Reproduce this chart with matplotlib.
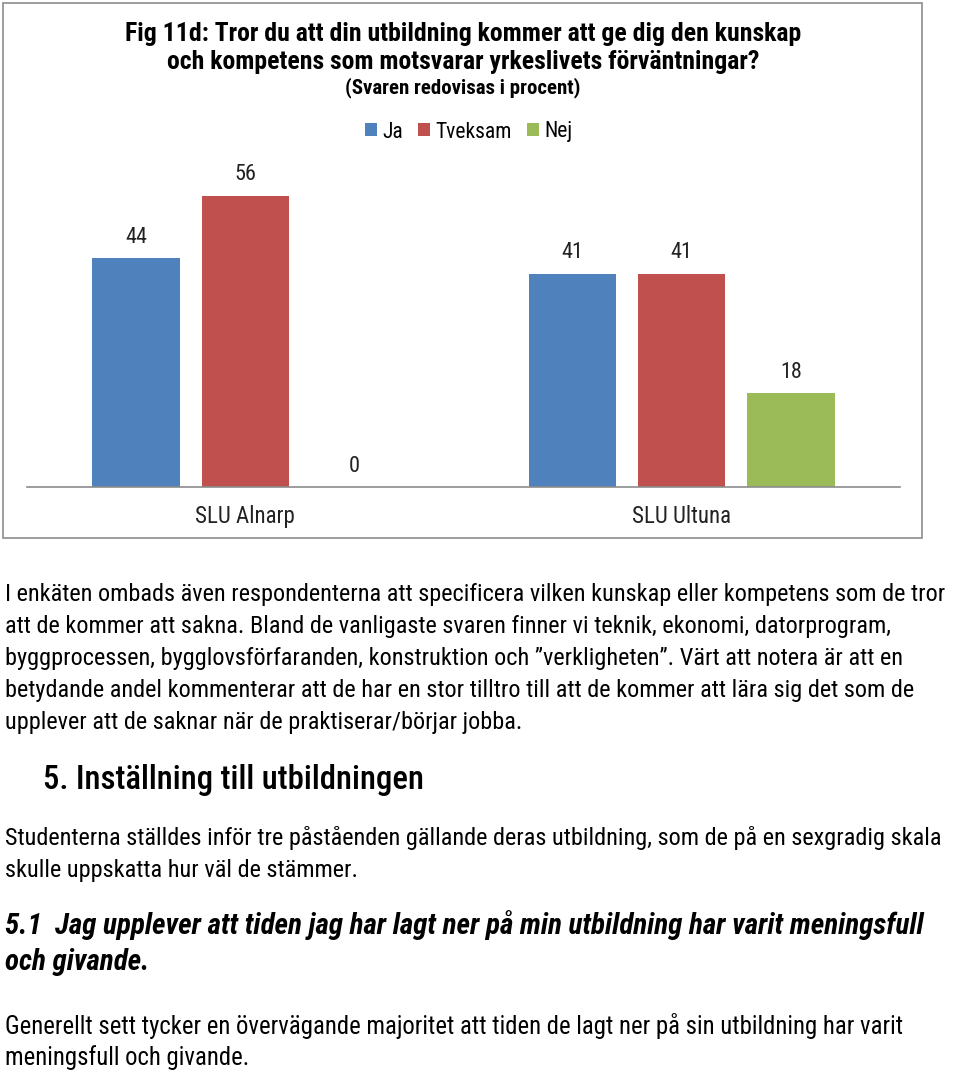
import matplotlib.pyplot as plt
import numpy as np

categories = ['SLU Alnarp', 'SLU Ultuna']
series = ['Ja', 'Tveksam', 'Nej']
values = {
    'Ja': [44, 41],
    'Tveksam': [56, 41],
    'Nej': [0, 18],
}
colors = {'Ja': '#4F81BD', 'Tveksam': '#C0504D', 'Nej': '#9BBB59'}

title = ('Fig 11d: Tror du att din utbildning kommer att ge dig den kunskap\n'
         'och kompetens som motsvarar yrkeslivets förväntningar?')
subtitle = '(Svaren redovisas i procent)'

para1 = [
    'I enkäten ombads även respondenterna att specificera vilken kunskap eller kompetens som de tror',
    'att de kommer att sakna. Bland de vanligaste svaren finner vi teknik, ekonomi, datorprogram,',
    'byggprocessen, bygglovsförfaranden, konstruktion och ”verkligheten”. Värt att notera är att en',
    'betydande andel kommenterar att de har en stor tilltro till att de kommer att lära sig det som de',
    'upplever att de saknar när de praktiserar/börjar jobba.',
]
heading = '5. Inställning till utbildningen'
para2 = [
    'Studenterna ställdes inför tre påståenden gällande deras utbildning, som de på en sexgradig skala',
    'skulle uppskatta hur väl de stämmer.',
]
sub_heading = [
    '5.1  Jag upplever att tiden jag har lagt ner på min utbildning har varit meningsfull',
    'och givande.',
]
para3 = [
    'Generellt sett tycker en övervägande majoritet att tiden de lagt ner på sin utbildning har varit',
    'meningsfull och givande.',
]

plt.rcParams['font.family'] = ['Roboto Condensed', 'Roboto', 'DejaVu Sans']
plt.rcParams['font.stretch'] = 'condensed'

W, H = 960, 1074
fig = plt.figure(figsize=(W / 100, H / 100), dpi=100)


def fx(px):
    return px / W


def fy(py):
    return 1 - py / H


# chart frame
frame = plt.Rectangle((fx(3), fy(538)), fx(922) - fx(3), fy(3) - fy(538),
                      transform=fig.transFigure, fill=False, edgecolor='#8c8c8c',
                      linewidth=1.2)
fig.add_artist(frame)

# axes: baseline at y=487, x from 27 to 900
ax = fig.add_axes([fx(27), fy(487), fx(900) - fx(27), fy(175) - fy(487)])
ax.set_xlim(-0.5, 1.5)
ax.set_ylim(0, 60)
x = np.arange(len(categories))
offsets = [-0.25, 0, 0.25]
for s, off in zip(series, offsets):
    ax.bar(x + off, values[s], width=0.2, color=colors[s], label=s, zorder=2)
    for xi, v in zip(x + off, values[s]):
        ax.annotate(str(v), (xi, v), xytext=(0, 15), textcoords='offset points',
                    ha='center', va='center', fontsize=16, color='#222222',
                    annotation_clip=False)

for sp in ['top', 'right', 'left']:
    ax.spines[sp].set_visible(False)
ax.spines['bottom'].set_color('#8c8c8c')
ax.spines['bottom'].set_linewidth(1.2)
ax.set_yticks([])
ax.set_xticks(x)
ax.set_xticklabels(categories, fontsize=16.5, color='#222222')
ax.tick_params(axis='x', length=0, pad=13)

fig.text(fx(463), fy(48), title, ha='center', va='center', fontsize=18.5,
         fontweight='bold', linespacing=1.2)
fig.text(fx(463), fy(88), subtitle, ha='center', va='center', fontsize=15,
         fontweight='bold')

handles, labels = ax.get_legend_handles_labels()
fig.legend(handles, labels, loc='center', bbox_to_anchor=(fx(469), fy(132)),
           ncol=3, frameon=False, fontsize=15.5, handlelength=0.55, handleheight=0.55,
           handletextpad=0.25, columnspacing=0.7)

# body text
ys = [594, 627, 659, 691, 723]
for yy, line in zip(ys, para1):
    fig.text(fx(5), fy(yy), line, ha='left', va='center', fontsize=17.5)

fig.text(fx(43), fy(780), heading, ha='left', va='center', fontsize=23.6,
         fontweight='medium')

for yy, line in zip([838, 871], para2):
    fig.text(fx(5), fy(yy), line, ha='left', va='center', fontsize=17.5)

for yy, line in zip([925, 962], sub_heading):
    fig.text(fx(5), fy(yy), line, ha='left', va='center', fontsize=21,
             fontweight='bold', fontstyle='italic')

for yy, line in zip([1026, 1058], para3):
    fig.text(fx(5), fy(yy), line, ha='left', va='center', fontsize=17.8)

fig.savefig('out.png', dpi=100)
